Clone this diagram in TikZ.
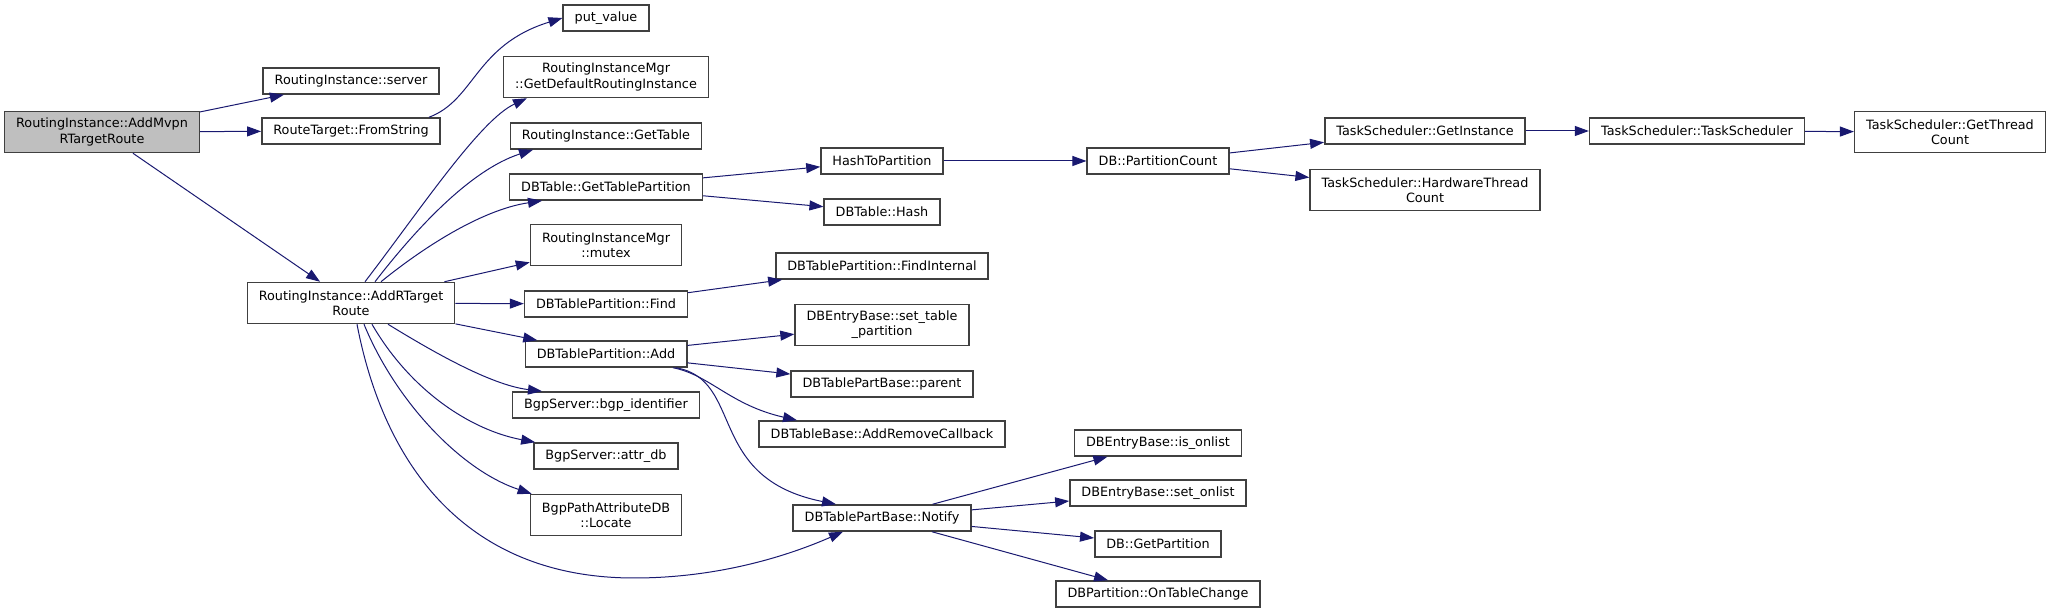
\documentclass[tikz,border=0pt]{standalone}
\usepackage{fontspec}
\setmainfont{DejaVu Sans}
\usetikzlibrary{arrows.meta}
\definecolor{midnight}{HTML}{191970}
\definecolor{boxline}{HTML}{404040}
\definecolor{rootfill}{HTML}{BFBFBF}
\tikzset{
  fn/.style={draw=boxline, line width=0.75pt, fill=white, align=center,
    font=\fontsize{6.4}{7.6}\selectfont, inner xsep=5.75pt, inner ysep=0pt,
    minimum height=13pt},
  fntwo/.style={fn, minimum height=20.5pt},
  calledge/.style={->, midnight, line width=0.5pt},
}
\begin{document}
\begin{tikzpicture}[x=0.5pt, y=-0.5pt, >={Triangle[length=7pt,width=5pt]}]
\useasboundingbox (0,0) rectangle (2051,613);

% column centres (pixels)
\def\ca{102}
\def\cb{351}
\def\cc{606}
\def\cd{882}
\def\ce{1158}
\def\cf{1425}
\def\cg{1697}
\def\ch{1950}

%--- Caller ---
\node[fntwo, fill=rootfill] (mvpn) at (\ca,132) {RoutingInstance::AddMvpn\\RTargetRoute};

%--- Column 2 ---
\node[fn] (server) at (\cb,81) {RoutingInstance::server};
\node[fn] (fromstr) at (\cb,131) {RouteTarget::FromString};
\node[fntwo] (addrt) at (\cb,303) {RoutingInstance::AddRTarget\\Route};

%--- Column 3 ---
\node[fn] (putval) at (\cc,18) {put\_value};
\node[fntwo] (getdef) at (\cc,77) {RoutingInstanceMgr\\::GetDefaultRoutingInstance};
\node[fn] (gettable) at (\cc,136) {RoutingInstance::GetTable};
\node[fn] (gettp) at (\cc,187) {DBTable::GetTablePartition};
\node[fntwo] (mutex) at (\cc,245) {RoutingInstanceMgr\\::mutex};
\node[fn] (find) at (\cc,304) {DBTablePartition::Find};
\node[fn] (add) at (\cc,354) {DBTablePartition::Add};
\node[fn] (bgpid) at (\cc,405) {BgpServer::bgp\_identifier};
\node[fn] (attrdb) at (\cc,456) {BgpServer::attr\_db};
\node[fntwo] (locate) at (\cc,515) {BgpPathAttributeDB\\::Locate};

%--- Column 4 ---
\node[fn] (hashtp) at (\cd,161) {HashToPartition};
\node[fn] (dbhash) at (\cd,212) {DBTable::Hash};
\node[fn] (findint) at (\cd,266) {DBTablePartition::FindInternal};
\node[fntwo] (settp) at (\cd,325) {DBEntryBase::set\_table\\\_partition};
\node[fn] (parent) at (\cd,384) {DBTablePartBase::parent};
\node[fn] (addrc) at (\cd,434) {DBTableBase::AddRemoveCallback};
\node[fn] (notify) at (\cd,518) {DBTablePartBase::Notify};

%--- Column 5 ---
\node[fn] (pcount) at (\ce,161) {DB::PartitionCount};
\node[fn] (isonl) at (\ce,443) {DBEntryBase::is\_onlist};
\node[fn] (setonl) at (\ce,493) {DBEntryBase::set\_onlist};
\node[fn] (getpart) at (\ce,544) {DB::GetPartition};
\node[fn] (otc) at (\ce,594) {DBPartition::OnTableChange};

%--- Columns 6-8 ---
\node[fn] (getinst) at (\cf,131) {TaskScheduler::GetInstance};
\node[fntwo] (hwtc) at (\cf,190) {TaskScheduler::HardwareThread\\Count};
\node[fn] (tsched) at (\cg,131) {TaskScheduler::TaskScheduler};
\node[fntwo] (gettc) at (\ch,132) {TaskScheduler::GetThread\\Count};

%--- Straight calls ---
\foreach \a/\b in {mvpn/server, mvpn/fromstr, mvpn/addrt, addrt/mutex, addrt/find,
  addrt/add, gettp/hashtp, gettp/dbhash, find/findint, add/settp, add/parent,
  hashtp/pcount, pcount/getinst, pcount/hwtc, getinst/tsched, tsched/gettc,
  notify/isonl, notify/setonl, notify/getpart, notify/otc}{
  \draw[calledge] (\a) -- (\b);
}

%--- Curved calls ---
\draw[calledge] (fromstr.10) .. controls (475,100) and (475,45) .. (putval.west);
\draw[calledge] ([xshift=7pt]addrt.north) .. controls (420,210) and (480,120)
  .. ([xshift=-39.5pt]getdef.south);
\draw[calledge] ([xshift=12pt]addrt.north) .. controls (415,230) and (470,170)
  .. ([xshift=-36.5pt]gettable.south);
\draw[calledge] ([xshift=15pt]addrt.north) .. controls (420,250) and (480,210)
  .. ([xshift=-32pt]gettp.south);
\draw[calledge] ([xshift=18.5pt]addrt.south) .. controls (430,350) and (490,385)
  .. ([xshift=-32pt]bgpid.north);
\draw[calledge] ([xshift=10.5pt]addrt.south) .. controls (410,390) and (470,430)
  .. ([xshift=1pt]attrdb.north west);
\draw[calledge] ([xshift=6.5pt]addrt.south) .. controls (395,400) and (460,470)
  .. ([xshift=1pt]locate.north west);
\draw[calledge] ([xshift=3pt]addrt.south) .. controls (385,470) and (470,578)
  .. (634,578) .. controls (720,578) and (790,555) .. ([xshift=-19.5pt]notify.south);
\draw[calledge] ([xshift=33.5pt]add.south) .. controls (710,375) and (730,405)
  .. ([xshift=-42.5pt]addrc.north);
\draw[calledge] ([xshift=35pt]add.south) .. controls (745,380) and (705,478)
  .. ([xshift=-23pt]notify.north);

\end{tikzpicture}
\end{document}
